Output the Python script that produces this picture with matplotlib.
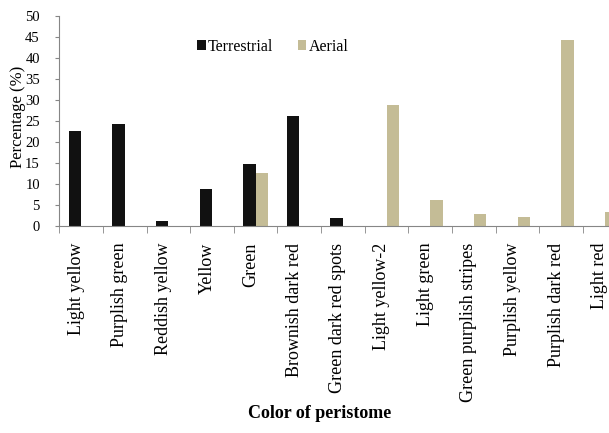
import matplotlib
matplotlib.use("Agg")
import matplotlib.pyplot as plt
import matplotlib.transforms as mtransforms
import numpy as np

# Data
categories = ["Light yellow", "Purplish green", "Reddish yellow", "Yellow", "Green",
              "Brownish dark red", "Green dark red spots", "Light yellow-2", "Light green",
              "Green purplish stripes", "Purplish yellow", "Purplish dark red", "Light red"]
terrestrial = [22.7, 24.2, 1.2, 8.9, 14.7, 26.2, 2.0, 0, 0, 0, 0, 0, 0]
aerial = [0, 0, 0, 0, 12.5, 0, 0, 28.7, 6.1, 2.9, 2.1, 44.3, 3.3]
yticks = list(range(0, 55, 5))

plt.rcParams['font.family'] = ['Liberation Serif', 'DejaVu Serif']

fig = plt.figure(figsize=(6.09, 4.33), dpi=100)
W, H = 609, 433
# axes box in pixels: left 59, right 627 (cropped off the figure), y=0 at 226, y=50 at 16
ax = fig.add_axes([59.3 / W, (H - 226) / H, (626.6 - 59.3) / W, (226 - 15.7) / H])

x = np.arange(len(categories))
w = 0.286
ax.bar(x - w / 2, terrestrial, w, color='#111111', label='Terrestrial')
ax.bar(x + w / 2, aerial, w, color='#C4BC96', label='Aerial')

ax.set_xlim(-0.5, len(categories) - 0.5)
ax.set_ylim(0, 50)
ax.set_yticks(yticks)
ax.tick_params(axis='y', length=3, color='#868686', pad=11, labelsize=10.5)

# labels at the category centres, tick marks at the boundaries
ax.set_xticks(x)
ax.set_xticklabels(categories, rotation=90, fontsize=13)
ax.tick_params(axis='x', which='major', length=0, pad=12)
ax.set_xticks(np.arange(-0.5, len(categories)), minor=True)
ax.tick_params(axis='x', which='minor', length=5, color='#868686')
shift = mtransforms.ScaledTranslation(-5 / 100, 0, fig.dpi_scale_trans)
for lab in ax.get_xticklabels():
    lab.set_transform(lab.get_transform() + shift)

for s in ['top', 'right']:
    ax.spines[s].set_visible(False)
for s in ['left', 'bottom']:
    ax.spines[s].set_color('#868686')

fig.text(18 / W, (H - 117) / H, 'Percentage (%)', rotation=90, fontsize=12,
         ha='center', va='center')
fig.text(320 / W, (H - 414) / H, 'Color of peristome', fontsize=13, fontweight='bold',
         ha='center', va='center')

ax.legend(loc='center left', bbox_to_anchor=(197 / W, (H - 47) / H),
          bbox_transform=fig.transFigure, ncol=2, frameon=False, fontsize=11.5,
          handlelength=0.55, handleheight=0.6, handletextpad=0.15, columnspacing=1.5,
          borderpad=0, borderaxespad=0)

fig.savefig('out.png', dpi=100)
